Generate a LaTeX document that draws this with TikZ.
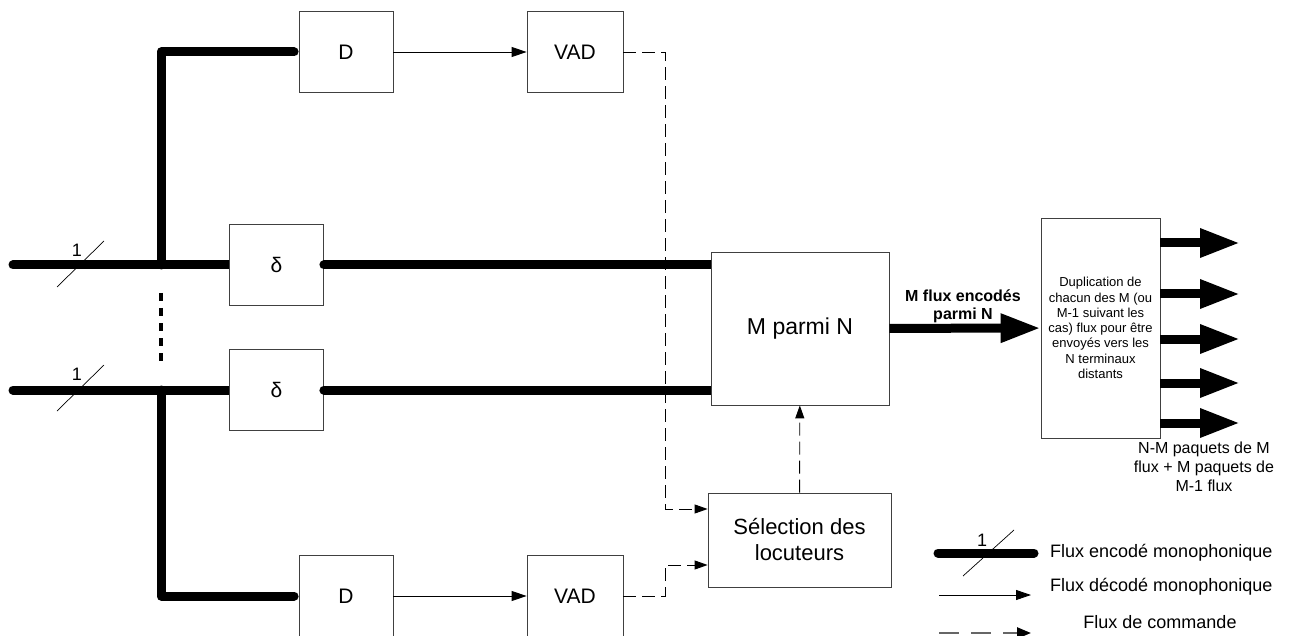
\documentclass[tikz,border=0pt]{standalone}
\usepackage{fontspec}
\setmainfont{Liberation Sans}
\usetikzlibrary{arrows.meta,positioning}

\begin{document}
\begin{tikzpicture}[
  x=1pt, y=-1pt,
  blk/.style={draw=black!75, line width=0.8pt, minimum width=94pt, minimum height=81pt, inner sep=0pt, font=\fontsize{21}{24}\selectfont},
  enc/.style={line width=9pt, line cap=round, line join=round},
  dec/.style={line width=0.9pt, -{Triangle[length=15pt,width=10pt]}},
  cmd/.style={line width=0.9pt, dash pattern=on 13pt off 6pt, -{Triangle[length=13pt,width=9pt]}},
  fat/.style={line width=9pt, -{Triangle[length=40pt,width=27pt]}},
  tick/.style={line width=0.7pt},
  num/.style={font=\fontsize{18}{20}\selectfont, inner sep=0pt},
  lgd/.style={font=\fontsize{18}{22}\selectfont, anchor=west, inner sep=0pt}
]
\useasboundingbox (0,0) rectangle (1301,636);

% blocks
\node[blk] (D1) at (346,52) {D};
\node[blk, minimum width=96pt] (V1) at (575,52) {VAD};
\node[blk] (d1) at (276.5,265) {δ};
\node[blk] (d2) at (276.5,390) {δ};
\node[blk] (D2) at (346,596) {D};
\node[blk, minimum width=96pt] (V2) at (575,596) {VAD};
\node[blk, minimum width=178pt, minimum height=153pt, font=\fontsize{23}{26}\selectfont] (M) at (800,328.5) {M parmi N};
\node[blk, minimum width=183pt, minimum height=94pt, align=center, font=\fontsize{22}{26}\selectfont] (S) at (799.5,540) {Sélection des\\locuteurs};
\node[blk, minimum width=119pt, minimum height=220pt, align=center, font=\fontsize{13}{15.3}\selectfont] (Dup) at (1100.5,328) {Duplication de\\chacun des M (ou\\M-1 suivant les\\cas) flux pour être\\envoyés vers les\\N terminaux\\distants};

% inputs
\coordinate (in1) at (13,265);
\coordinate (in2) at (13,390);
\coordinate (j1) at (161,265);
\coordinate (j2) at (161,390);
\draw[enc] (in1) -- (j1);
\draw[enc] (in2) -- (j2);
\draw[enc, line cap=butt] (j1) -- (d1.west);
\draw[enc, line cap=butt] (j2) -- (d2.west);
\draw[enc, shorten <=4.5pt] (D1.west) -| (j1);
\draw[enc, shorten >=4.5pt] (j2) |- (D2.west);
\draw[enc] (d1.east) -- ++(20,0);
\draw[enc] (d2.east) -- ++(20,0);
\draw[enc, line cap=butt] (d1.east) -- (d1.east -| M.west);
\draw[enc, line cap=butt] (d2.east) -- (d2.east -| M.west);
\draw[line width=4.5pt, dash pattern=on 8pt off 7pt] (161,293) -- (161,362);
\draw[tick] (57,287) -- (104,241);
\draw[tick] (57,411) -- (104,365);
\node[num] (n1) at (77,250) {1};
\node[num] (n2) at (77,374) {1};

% decoded and command flows
\draw[dec] (D1) -- (V1);
\draw[dec] (D2) -- (V2);
\coordinate (c1) at (665,509);
\coordinate (c2) at (665,565);
\draw[cmd] (V1.east) -| (c1) -- (c1 -| S.west);
\draw[cmd] (V2.east) -| (c2) -- (c2 -| S.west);
\draw[cmd] (S) -- (M);

% outputs
\draw[fat] (M) -- (Dup);
\node[align=center, font=\bfseries\fontsize{16}{18}\selectfont, inner sep=0pt] (lab) at (963,306) {M flux encodés\\parmi N};
\foreach \y [count=\i] in {243,294,339,383,423} {
  \coordinate (o\i) at (1240,\y);
  \draw[fat] (Dup.east |- o\i) -- (o\i);
}
\node[align=center, font=\fontsize{16}{19}\selectfont, inner sep=0pt] (pk) at (1204,467) {N-M paquets de M\\flux + M paquets de\\M-1 flux};

% legend
\coordinate (la) at (938,553);
\coordinate (lb) at (1034,553);
\draw[enc] (la) -- (lb);
\draw[tick] (963,576) -- (1014,530);
\node[num] (n3) at (982,540) {1};
\node[lgd] (t1) at (1050,553) {Flux encodé monophonique};
\coordinate (lc) at (939,595);
\coordinate (ld) at (1031,595);
\draw[dec] (lc) -- (ld);
\node[lgd] (t2) at (1050,587) {Flux décodé monophonique};
\coordinate (le) at (939,633);
\coordinate (lf) at (1031,633);
\draw[line width=2.5pt, black!60, dash pattern=on 20pt off 12pt, -{Triangle[length=14pt,width=11pt,color=black]}] (le) -- (lf);
\node[lgd, anchor=center] (t3) at (1160,622) {Flux de commande};
\end{tikzpicture}
\end{document}
